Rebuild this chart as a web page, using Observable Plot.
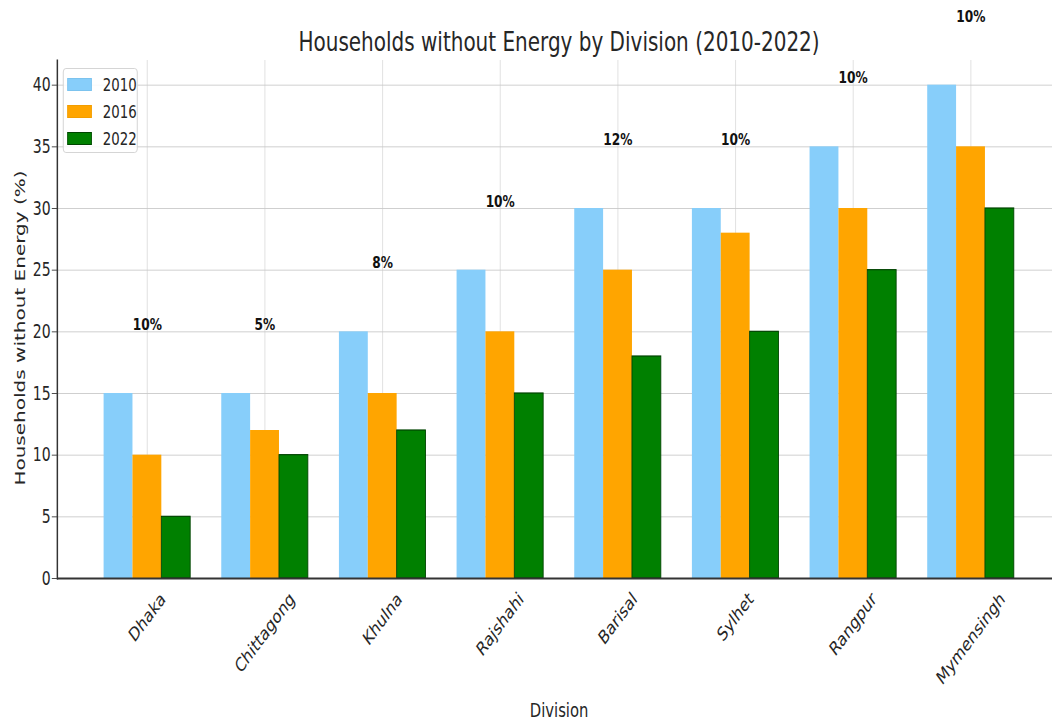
<!DOCTYPE html>
<html><head><meta charset="utf-8">
<script src="https://cdn.jsdelivr.net/npm/d3@7"></script>
<script src="https://cdn.jsdelivr.net/npm/@observablehq/plot@0.6"></script>
<style>
html,body{margin:0;padding:0;overflow:hidden;background:#fff;}
#stage{position:absolute;left:0;top:0;width:1422px;height:725px;transform:scaleX(0.74);transform-origin:0 0;font-family:"DejaVu Sans",sans-serif;color:#262626;}
#stage svg{position:absolute;left:0;top:0;}
#title{position:absolute;left:77px;width:1357px;top:28px;text-align:center;font-size:27px;line-height:27px;z-index:5;}
#xlabel{position:absolute;left:77px;width:1357px;top:700px;text-align:center;font-size:20px;line-height:20px;z-index:5;}
#ylabel{position:absolute;left:27px;top:328px;white-space:nowrap;font-size:20px;line-height:20px;transform:translate(-50%,-50%) rotate(-90deg);z-index:5;}
#legend{position:absolute;left:85px;top:68px;width:101px;height:85px;border:1px solid #cfcfcf;border-radius:4px;background:rgba(255,255,255,0.85);z-index:6;box-sizing:border-box;padding-top:2px;}
#legend .row{height:27px;display:flex;align-items:center;font-size:18px;}
#legend .sw{display:inline-block;width:33px;height:13px;margin-left:5px;margin-right:15px;box-sizing:border-box;}
</style></head>
<body><div id="stage">
<div id="title">Households without Energy by Division (2010-2022)</div>
<div id="ylabel">Households without Energy (%)</div>
<div id="xlabel">Division</div>
<div id="legend"></div>
</div>
<script>
const divisions = ["Dhaka","Chittagong","Khulna","Rajshahi","Barisal","Sylhet","Rangpur","Mymensingh"];
const years = ["2010","2016","2022"];
const values2010 = [15,15,20,25,30,30,35,40];
const values2016 = [10,12,15,20,25,28,30,35];
const values2022 = [5,10,12,15,18,20,25,30];
const changeLabels = ["10%","5%","8%","10%","12%","10%","10%","10%"];
const yTicks = [0,5,10,15,20,25,30,35,40];
const colors = ["#87CEFA","#FFA500","#008000"];
const edgeColors = ["#7cc3ee","#f29d00","#004400"];

const series = [values2010, values2016, values2022];
const bars = divisions.flatMap((d,i) => years.map((y,j) => ({division: d, year: y, value: series[j][i]})));
const notes = divisions.map((d,i) => ({division: d, top: Math.max(values2010[i], values2016[i], values2022[i]), label: changeLabels[i]}));

const frameOpts = {
  width: 1422, height: 725,
  marginLeft: 77, marginRight: -12, marginTop: 60, marginBottom: 147,
  style: {fontFamily: "DejaVu Sans, sans-serif", fontSize: "19px", color: "#262626", background: "transparent", overflow: "visible"},
  y: {domain: [0, 42], axis: null}
};
const bandOpts = {type: "band", domain: divisions, paddingInner: 0.263, paddingOuter: 0.385, axis: null};

// layer 1: grid
const gridLayer = Plot.plot({
  ...frameOpts,
  x: bandOpts,
  marks: [
    Plot.gridX(divisions, {stroke: "#dcdcdc", strokeOpacity: 1}),
    Plot.ruleY(yTicks, {stroke: "#c8c8c8"})
  ]
});

// layer 2: grouped bars
const barLayer = Plot.plot({
  ...frameOpts,
  fx: bandOpts,
  x: {domain: years, padding: 0, axis: null},
  color: {domain: years, range: colors},
  marks: [
    Plot.barY(bars, {fx: "division", x: "year", y: "value", fill: "year"}),
    Plot.barY(bars.filter(b => b.year === "2022"), {fx: "division", x: "year", y: "value", fill: "none", stroke: edgeColors[2], strokeWidth: 1.2})
  ]
});

// layer 3: axes, spines, labels
const axisLayer = Plot.plot({
  ...frameOpts,
  x: bandOpts,
  marks: [
    Plot.ruleY([0], {stroke: "#333", strokeWidth: 2}),
    Plot.frame({anchor: "left", stroke: "#333", strokeWidth: 2}),
    Plot.axisY({ticks: yTicks, tickSize: 7, tickPadding: 2, fontSize: 19, stroke: "#333", label: null}),
    Plot.text(notes, {x: "division", y: d => d.top + 5, text: "label", lineAnchor: "bottom", dy: -2, fontWeight: "bold", fontSize: 16.5, fill: "#111"}),
    Plot.text(divisions, {x: d => d, text: d => d, frameAnchor: "bottom", rotate: -45, textAnchor: "middle", lineAnchor: "middle", fontSize: 19, fill: "#262626"})
  ]
});

const stage = document.getElementById("stage");
stage.prepend(gridLayer, barLayer, axisLayer);
axisLayer.querySelectorAll("text").forEach(t => {
  if (!divisions.includes(t.textContent)) return;
  const L = t.getComputedTextLength();
  const off = 12 + (L + 0.8 * 19) * Math.SQRT1_2 / 2;
  t.setAttribute("transform", `translate(0,${off}) ` + (t.getAttribute("transform") || ""));
});

const legend = document.getElementById("legend");
years.forEach((y, j) => {
  const row = document.createElement("div");
  row.className = "row";
  const sw = document.createElement("span");
  sw.className = "sw";
  sw.style.background = colors[j];
  sw.style.border = "1px solid " + edgeColors[j];
  row.append(sw, document.createTextNode(y));
  legend.append(row);
});
</script>
</body></html>
